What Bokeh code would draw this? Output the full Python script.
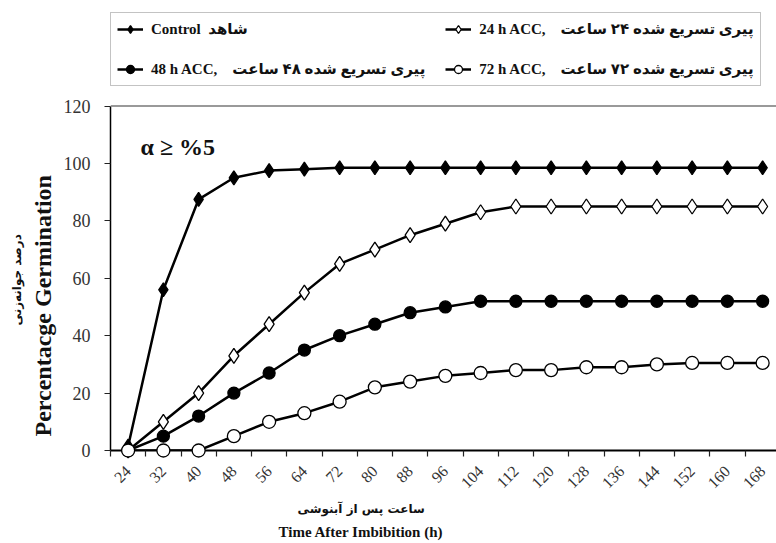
import math
from bokeh.plotting import figure
from bokeh.models import Range1d, FixedTicker, Legend, LegendItem, Label, Title, Span
from bokeh.embed import file_html
from bokeh.resources import INLINE

# ---------------- data ----------------
hours = [24, 32, 40, 48, 56, 64, 72, 80, 88, 96, 104, 112, 120, 128, 136, 144, 152, 160, 168]
control = [1.5, 56, 87.5, 95, 97.5, 98, 98.5, 98.5, 98.5, 98.5, 98.5, 98.5, 98.5, 98.5, 98.5, 98.5, 98.5, 98.5, 98.5]
acc_24h = [0, 10, 20, 33, 44, 55, 65, 70, 75, 79, 83, 85, 85, 85, 85, 85, 85, 85, 85]
acc_48h = [0, 5, 12, 20, 27, 35, 40, 44, 48, 50, 52, 52, 52, 52, 52, 52, 52, 52, 52]
acc_72h = [0, 0, 0, 5, 10, 13, 17, 22, 24, 26, 27, 28, 28, 29, 29, 30, 30.5, 30.5, 30.5]
y_ticks = [0, 20, 40, 60, 80, 100, 120]
y_max = 120

NB = "\u00a0"
label_control = "Control" + NB * 2 + "شاهد"
label_24 = "24 h ACC," + NB * 4 + "پیری تسریع شده ۲۴ ساعت"
label_48 = "48 h ACC," + NB * 4 + "پیری تسریع شده ۴۸ ساعت"
label_72 = "72 h ACC," + NB * 4 + "پیری تسریع شده ۷۲ ساعت"
x_title_fa = "ساعت پس از آبنوشی"
x_title_en = "Time After Imbibition (h)"
y_title_fa = "درصد جوانه‌زنی"
y_title_en = "Percentacge Germination"
note = "α ≥ %5"

# category centres on a numeric axis
xs = [i + 0.5 for i in range(len(hours))]
bounds = list(range(len(hours) + 1))

SERIF = "'Liberation Serif', 'DejaVu Sans'"

# The frame runs up to the top of the canvas so that the legend (drawn inside the frame)
# is not clipped; the 0..120 part keeps its reference height of 346 px out of 452 px.
FRAME_H = 452
p = figure(width=776, height=543, x_range=Range1d(0, 666 / 35.25),
           y_range=Range1d(0, y_max * FRAME_H / 346),
           output_backend="svg", toolbar_location=None,
           min_border_left=110, min_border_top=0, min_border_bottom=91, min_border_right=0)
p.outline_line_color = None
p.xgrid.visible = False
p.ygrid.visible = False
p.background_fill_color = "white"
p.border_fill_color = "white"

# x axis
xa = p.xaxis[0]
xa.ticker = FixedTicker(ticks=xs, minor_ticks=bounds)
xa.major_label_overrides = {x: str(h) for x, h in zip(xs, hours)}
xa.major_label_orientation = math.pi / 4
xa.major_tick_line_color = None
xa.minor_tick_line_color = "#222"
xa.minor_tick_out = 6
xa.minor_tick_in = 0
xa.minor_tick_line_width = 1.2
xa.axis_line_color = "black"
xa.axis_line_width = 2
xa.major_label_text_font = SERIF
xa.major_label_text_font_size = "16px"
xa.major_label_text_color = "#333"
xa.major_label_standoff = 12

# y axis
ya = p.yaxis[0]
ya.ticker = FixedTicker(ticks=y_ticks)
ya.bounds = (0, y_max)
ya.minor_tick_line_color = None
ya.major_tick_out = 6
ya.major_tick_in = 0
ya.major_tick_line_color = "#222"
ya.major_tick_line_width = 1.2
ya.axis_line_color = "black"
ya.axis_line_width = 1.5
ya.major_label_text_font = SERIF
ya.major_label_text_font_size = "18px"
ya.major_label_text_color = "#333"
ya.major_label_standoff = 14

# top border of the plot area
p.add_layout(Span(location=y_max, dimension="width", line_color="#777", line_width=1.5))

# ---------------- series ----------------
series = [
    (control, "diamond", 14, "black", label_control),
    (acc_24h, "diamond", 15, "white", label_24),
    (acc_48h, "circle", 12, "black", label_48),
    (acc_72h, "circle", 13, "white", label_72),
]
items = []
for vals, marker, size, fill, lab in series:
    lr = p.line(xs, vals, line_color="black", line_width=2.5)
    sr = p.scatter(xs, vals, marker=marker, size=size, fill_color=fill,
                   line_color="black", line_width=1.3, level="overlay")
    items.append(LegendItem(label=lab, renderers=[lr, sr]))

legend = Legend(items=items, location=(0, 364), orientation="horizontal", ncols=2,
                label_text_font=SERIF, label_text_font_size="15px", label_text_font_style="bold",
                label_text_color="#111",
                glyph_width=26, glyph_height=20, label_height=20, label_standoff=8,
                spacing=20, padding=6, margin=0,
                border_line_color="#888", border_line_width=1.5,
                background_fill_color="white", background_fill_alpha=1)
p.add_layout(legend, "center")

# ---------------- texts ----------------
p.add_layout(Label(x=30, y=304, x_units="screen", y_units="screen", text=note,
                   text_font=SERIF, text_font_size="24px", text_font_style="bold",
                   text_baseline="middle", text_align="left", text_color="#111"))

p.add_layout(Title(text=x_title_fa, align="left", offset=187, standoff=6,
                   text_font="DejaVu Sans", text_font_size="12px", text_font_style="bold",
                   text_color="#111"), "below")
p.add_layout(Title(text=x_title_en, align="left", offset=168, standoff=7,
                   text_font=SERIF, text_font_size="15px", text_font_style="bold",
                   text_color="#111"), "below")
p.add_layout(Title(text=y_title_en, align="left", offset=14, standoff=9,
                   text_font=SERIF, text_font_size="24px", text_font_style="bold",
                   text_color="#111"), "left")
p.add_layout(Title(text=y_title_fa, align="left", offset=125, standoff=0,
                   text_font="DejaVu Sans", text_font_size="12px", text_font_style="bold",
                   text_color="#111"), "left")

open("out.html", "w").write(file_html(p, INLINE))
